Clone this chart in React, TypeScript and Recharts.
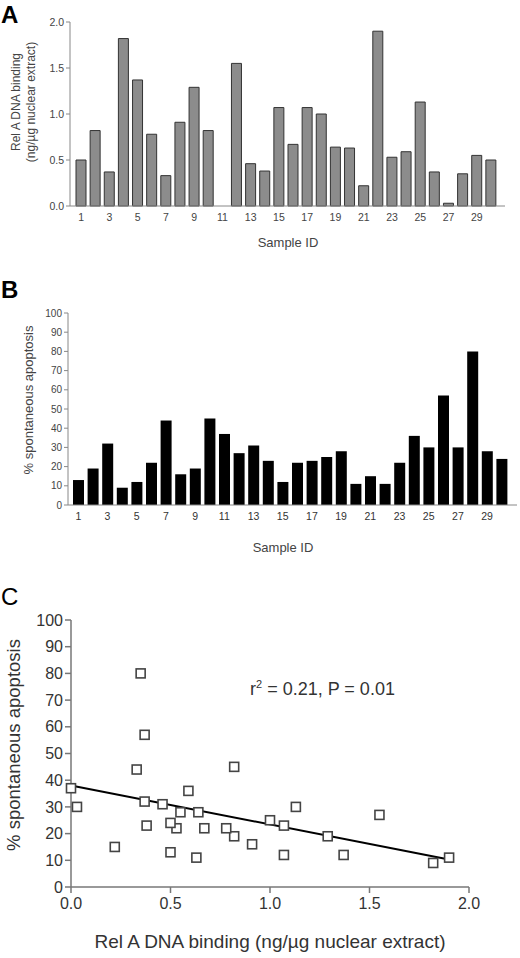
import React from 'react';
import { BarChart, Bar, XAxis, YAxis, ScatterChart, Scatter } from 'recharts';

const sampleIds = [1,2,3,4,5,6,7,8,9,10,11,12,13,14,15,16,17,18,19,20,21,22,23,24,25,26,27,28,29,30];
const relA = [0.5,0.82,0.37,1.82,1.37,0.78,0.33,0.91,1.29,0.82,0,1.55,0.46,0.38,1.07,0.67,1.07,1.0,0.64,0.63,0.22,1.9,0.53,0.59,1.13,0.37,0.03,0.35,0.55,0.5];
const apoptosis = [13,19,32,9,12,22,44,16,19,45,37,27,31,23,12,22,23,25,28,11,15,11,22,36,30,57,30,80,28,24];
const relATicks = [0, 0.5, 1.0, 1.5, 2.0];
const apoTicks = [0,10,20,30,40,50,60,70,80,90,100];
const fitX = [0, 1.88];
const fitY = [38, 10.6];

const FONT = 'Liberation Sans, Arial, Helvetica, sans-serif';

const barDataA = sampleIds.map((id, i) => ({ id, v: relA[i] }));
const barDataB = sampleIds.map((id, i) => ({ id, v: apoptosis[i] }));
const scatterData = relA.map((x, i) => ({ x, y: apoptosis[i] }));
const fitData = fitX.map((x, i) => ({ x, y: fitY[i] }));

const Square = (props: any) => {
  const { cx, cy } = props;
  if (cx == null || cy == null) return <g />;
  return <rect x={cx - 4.5} y={cy - 4.5} width={9} height={9} fill="#fff" stroke="#444" strokeWidth={1.6} />;
};

const abs = (left: number, top: number, extra: React.CSSProperties = {}): React.CSSProperties => ({
  position: 'absolute', left, top, fontFamily: FONT, whiteSpace: 'nowrap', lineHeight: 1.15, ...extra,
});

export default function App() {
  return (
    <div style={{ position: 'absolute', left: 0, top: 0, width: 520, height: 958, background: '#fff', overflow: 'hidden' }}>
      {/* Panel A */}
      <div style={abs(1, 1, { fontSize: 24, fontWeight: 'bold', color: '#000' })}>A</div>
      <div style={{ position: 'absolute', left: 0, top: 0 }}>
        <BarChart width={520} height={260} data={barDataA} margin={{ top: 22, right: 15, left: 0, bottom: 24 }} barCategoryGap={2}>
          <XAxis dataKey="id" interval={1} tickLine={false} height={30} stroke="#888" padding={{ left: 4, right: 7 }}
            tick={{ fontSize: 10.5, fill: '#444', fontFamily: FONT }} />
          <YAxis domain={[0, 2]} ticks={relATicks} width={70} tickSize={4} stroke="#888"
            tickFormatter={(v: number) => v.toFixed(1)} tick={{ fontSize: 10.5, fill: '#444', fontFamily: FONT }} />
          <Bar dataKey="v" barSize={10} fill="#8c8c8c" stroke="#333" strokeWidth={1} isAnimationActive={false} />
        </BarChart>
      </div>
      <div style={abs(17, 102, { fontSize: 12, color: '#444', transform: 'translate(-50%,-50%) rotate(-90deg)' })}>Rel A DNA binding</div>
      <div style={abs(32, 102, { fontSize: 12, color: '#444', transform: 'translate(-50%,-50%) rotate(-90deg)' })}>(ng/µg nuclear extract)</div>
      <div style={abs(288, 243, { fontSize: 13, color: '#444', transform: 'translate(-50%,-50%)' })}>Sample ID</div>

      {/* Panel B */}
      <div style={abs(1, 276, { fontSize: 24, fontWeight: 'bold', color: '#000' })}>B</div>
      <div style={{ position: 'absolute', left: 0, top: 270 }}>
        <BarChart width={520} height={290} data={barDataB} margin={{ top: 43, right: 3, left: 0, bottom: 25 }} barCategoryGap={2}>
          <XAxis dataKey="id" interval={1} tickLine={false} height={30} stroke="#888" padding={{ left: 3, right: 8 }}
            tick={{ fontSize: 10.5, fill: '#333', fontFamily: FONT }} />
          <YAxis domain={[0, 100]} ticks={apoTicks} width={68} tickSize={4} stroke="#888"
            tick={{ fontSize: 10, fill: '#444', fontFamily: FONT }} />
          <Bar dataKey="v" barSize={11} fill="#000" isAnimationActive={false} />
        </BarChart>
      </div>
      <div style={abs(29, 400, { fontSize: 13, color: '#444', transform: 'translate(-50%,-50%) rotate(-90deg)' })}>% spontaneous apoptosis</div>
      <div style={abs(283, 548, { fontSize: 13, color: '#444', transform: 'translate(-50%,-50%)' })}>Sample ID</div>

      {/* Panel C */}
      <div style={abs(1, 583, { fontSize: 24, color: '#000' })}>C</div>
      <div style={{ position: 'absolute', left: 0, top: 580 }}>
        <ScatterChart width={520} height={378} margin={{ top: 40, right: 51, left: 0, bottom: 31 }}>
          <XAxis type="number" dataKey="x" domain={[0, 2]} ticks={relATicks} height={40} tickSize={6} tickMargin={5}
            stroke="#777" strokeWidth={1.5} tickFormatter={(v: number) => v.toFixed(1)}
            tick={{ fontSize: 16, fill: '#333', fontFamily: FONT }} />
          <YAxis type="number" dataKey="y" domain={[0, 100]} ticks={apoTicks} width={71} tickSize={6} tickMargin={2}
            stroke="#777" strokeWidth={1.5} tick={{ fontSize: 16, fill: '#333', fontFamily: FONT }} />
          <Scatter data={fitData} line={{ stroke: '#000', strokeWidth: 2 }} shape={() => <g />} isAnimationActive={false} />
          <Scatter data={scatterData} shape={Square} isAnimationActive={false} />
        </ScatterChart>
      </div>
      <div style={abs(14, 745, { fontSize: 18.5, color: '#333', transform: 'translate(-50%,-50%) rotate(-90deg)' })}>% spontaneous apoptosis</div>
      <div style={abs(270, 942, { fontSize: 19, color: '#333', transform: 'translate(-50%,-50%)' })}>Rel A DNA binding (ng/µg nuclear extract)</div>
      <div style={abs(250, 678, { fontSize: 18, color: '#333' })}>r<sup style={{ fontSize: 11 }}>2</sup> = 0.21, P = 0.01</div>
    </div>
  );
}
